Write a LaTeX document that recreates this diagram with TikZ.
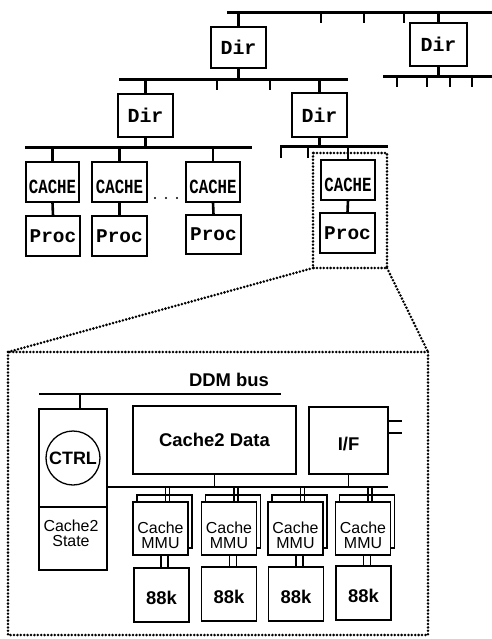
\documentclass[tikz,border=0pt]{standalone}
\usepackage{fontspec}
\setmainfont{Liberation Sans}
\newfontfamily\monofont{Liberation Mono}
\tikzset{
  box/.style={draw, line width=1.3bp, fill=white, inner sep=0pt},
  bus/.style={line width=3bp},
  tick/.style={line width=2.6bp},
  thinline/.style={line width=1.2bp},
  dotline/.style={line width=2.8bp, dash pattern=on 0bp off 3.4bp, line cap=round},
  mono/.style={font=\monofont\bfseries\fontsize{19.5}{19}\selectfont},
  dirtxt/.style={font=\monofont\bfseries\fontsize{20}{20}\selectfont},
  cachetxt/.style={font=\monofont\bfseries\fontsize{15.5}{15}\selectfont},
  sansb/.style={font=\bfseries\fontsize{18.5}{18}\selectfont},
  sansr/.style={font=\fontsize{16}{15}\selectfont, align=center, inner sep=0pt},
  dirbox/.style={box, dirtxt},
  cachebox/.style={box, minimum height=40bp, label={[cachetxt, yshift=-5bp]center:\scalebox{1.02}[1.3]{CACHE}}},
  procbox/.style={box, mono, minimum height=40bp},
}
\begin{document}
\begin{tikzpicture}[x=1bp,y=-1bp]
\useasboundingbox[fill=white] (0,0) rectangle (492,639);

% ---------- top level bus ----------
\coordinate (tbW) at (227,13); \coordinate (tbE) at (492,13);
\draw[bus] (tbW) -- (tbE);
\foreach \x in {321,364,404} \draw[tick] (\x,13) -- (\x,23);

\node[dirbox, minimum width=55bp, minimum height=41bp] (dir0) at (238.5,47.5) {Dir};
\node[dirbox, minimum width=57bp, minimum height=43bp] (dir1) at (438.5,44.5) {Dir};
\draw[tick] (dir0.north) -- (dir0.north |- tbW);
\draw[tick] (dir1.north) -- (dir1.north |- tbW);

% right directory bus
\coordinate (rbW) at (383,77); \coordinate (rbE) at (492,77);
\draw[bus] (rbW) -- (rbE);
\draw[tick] (dir1.south) -- (dir1.south |- rbW);
\foreach \x in {397,427,450,472} \draw[tick] (\x,77) -- (\x,87);

% level 2 bus
\coordinate (l2W) at (119,80); \coordinate (l2E) at (348,80);
\draw[bus] (l2W) -- (l2E);
\draw[tick] (dir0.south) -- (dir0.south |- l2W);
\foreach \x in {217,270} \draw[tick] (\x,80) -- (\x,90);

\node[dirbox, minimum width=55bp, minimum height=43bp] (dirL) at (145.5,115.5) {Dir};
\node[dirbox, minimum width=55bp, minimum height=44bp] (dirR) at (319.5,115) {Dir};
\draw[tick] (dirL.north) -- (dirL.north |- l2W);
\draw[tick] (dirR.north) -- (dirR.north |- l2W);

% level 3 buses
\coordinate (l3W) at (25,148); \coordinate (l3E) at (252,148);
\draw[bus] (l3W) -- (l3E);
\draw[tick] (dirL.south) -- (dirL.south |- l3W);
\coordinate (r3W) at (280,147); \coordinate (r3E) at (388,147);
\draw[bus] (r3W) -- (r3E);
\draw[tick] (dirR.south) -- (dirR.south |- r3W);
\draw[tick] (281,147) -- (281,158);
\draw[tick] (308,147) -- (308,158);

% caches and processors
\node[cachebox, minimum width=53bp] (c1) at (52.5,182) {};
\node[cachebox, minimum width=55bp] (c2) at (119.5,182) {};
\node[cachebox, minimum width=54bp] (c3) at (213,182) {};
\node[cachebox, minimum width=54bp] (c4) at (348,180) {};
\node[procbox, minimum width=54bp] (p1) at (53,236) {Proc};
\node[procbox, minimum width=55bp] (p2) at (119.5,236) {Proc};
\node[procbox, minimum width=55bp, minimum height=39bp] (p3) at (213.5,234.5) {Proc};
\node[procbox, minimum width=55bp] (p4) at (347.5,233) {Proc};
\foreach \i in {1,2,3} \draw[tick] (c\i.north) -- (c\i.north |- l3W);
\draw[tick] (c4.north) -- (c4.north |- r3W);
\foreach \i in {1,2,3,4} \draw[tick] (c\i.south) -- (p\i.north);
\foreach \x in {155,166,177} \fill (\x,198) circle (1.1bp);

% zoom frame
\coordinate (zNW) at (313,153); \coordinate (zSE) at (387,268);
\draw[dotline] (zNW) rectangle (zSE);
\coordinate (bNW) at (8,352); \coordinate (bSE) at (428,635);
\draw[dotline] (bNW) rectangle (bSE);
\draw[dotline] (zNW |- zSE) -- (bNW);
\draw[dotline] (zSE) -- (bSE |- bNW);

% ---------- detail ----------
\node[font=\bfseries\fontsize{18.5}{18}\selectfont] (ddm) at (229,380) {DDM bus};
\coordinate (dbW) at (39,394); \coordinate (dbE) at (281,394);
\draw[bus, line width=2.6bp] (dbW) -- (dbE);

\node[box, minimum width=68bp, minimum height=98bp] (ctrlbox) at (73,458) {};
\node[draw, circle, line width=1.3bp, minimum size=54bp, inner sep=0pt, font=\bfseries\fontsize{18}{18}\selectfont] (ctrl) at (73,458) {CTRL};
\node[box, minimum width=68bp, minimum height=63bp] (state) at (73,538.5) {};
\node[sansr] (statetxt) at (71,533) {Cache2\\State};
\draw[thinline] ([xshift=7bp]ctrlbox.north) -- ([xshift=7bp]ctrlbox.north |- dbW);

\node[box, sansb, minimum width=163bp, minimum height=68bp] (c2d) at (214.5,440) {Cache2 Data};
\node[box, minimum width=79bp, minimum height=67bp, label={[sansb, yshift=-4bp]center:I/F}] (iff) at (348.5,440.5) {};
\coordinate (ifs1) at (402,421); \coordinate (ifs2) at (402,433);
\draw[thinline] (ifs1 -| iff.east) -- (ifs1);
\draw[thinline] (ifs2 -| iff.east) -- (ifs2);

\coordinate (ibW) at (107,487); \coordinate (ibE) at (388,487);
\draw[bus, line width=2.6bp] (ibW -| ctrlbox.east) -- (ibE);
\draw[thinline] (c2d.south) -- (c2d.south |- ibW);
\draw[thinline] (iff.south) -- (iff.south |- ibW);

\foreach \i/\x/\kx/\ky in {1/160.5/161.5/595, 2/229/229/594, 3/295.5/296/594, 4/363/363.5/593} {
  \node[box, line width=1.7bp, minimum width=55bp, minimum height=53bp] (mb\i) at (\x+4,521.5) {};
  \draw[thinline] ([xshift=1bp]mb\i.north |- ibW) -- ([xshift=1bp]mb\i.north |- 0,502);
  \draw[thinline] ([xshift=5bp]mb\i.north |- ibW) -- ([xshift=5bp]mb\i.north |- 0,502);
  \node[box, minimum width=55bp, minimum height=53bp] (m\i) at (\x,528.5) {};
  \node[sansr] (mt\i) at (\x,535.5) {Cache\\MMU};
  \node[box, minimum width=55bp, minimum height=54bp, label={[sansb, yshift=-3bp]center:88k}] (k\i) at (\kx,\ky) {};
  \draw[thinline] ([xshift=0.5bp]m\i.south) -- ([xshift=0.5bp]m\i.south |- k\i.north);
  \draw[thinline] ([xshift=7.5bp]m\i.south) -- ([xshift=7.5bp]m\i.south |- k\i.north);
}
\end{tikzpicture}
\end{document}
